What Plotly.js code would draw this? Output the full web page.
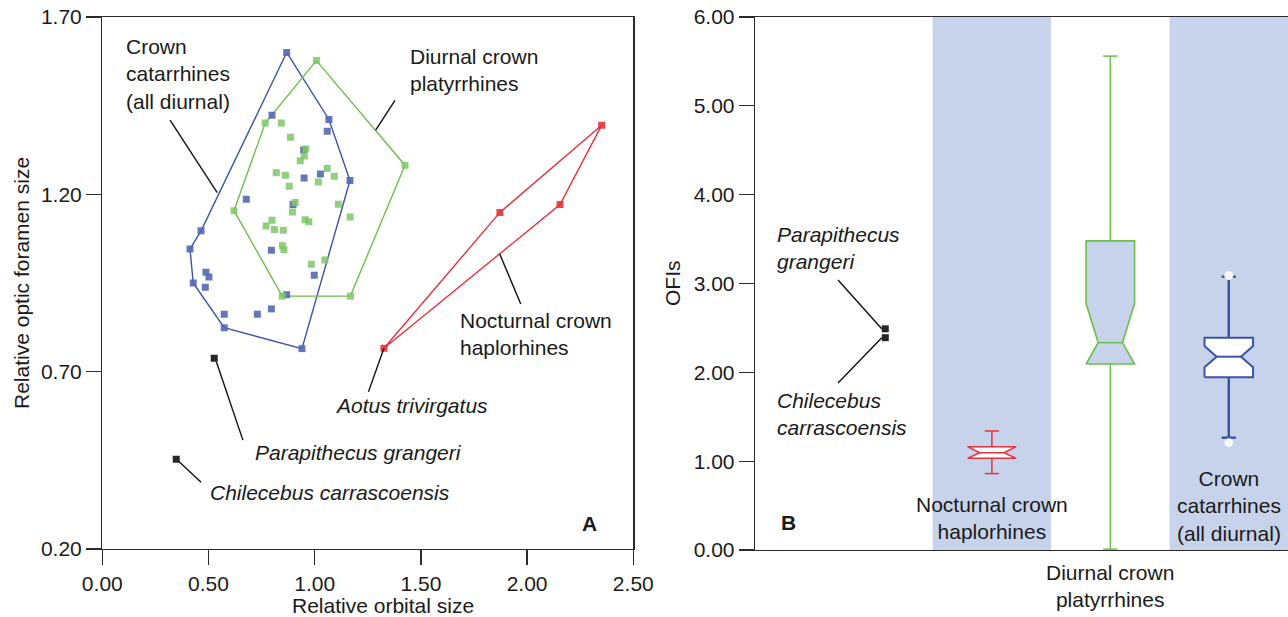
<!DOCTYPE html>
<html><head><meta charset="utf-8">
<script src="https://cdn.plot.ly/plotly-3.0.1.min.js"></script>
<style>html,body{margin:0;padding:0;background:#fff}#chart{width:1288px;height:617px}</style>
</head><body><div id="chart"></div>
<script>
// ---------- Panel A data ----------
const catarrhineOrbit = [0.868,1.067,1.059,0.799,0.948,0.950,1.027,1.166,0.678,0.898,0.465,0.413,0.796,0.488,0.502,0.428,0.485,0.998,0.868,0.574,0.730,0.796,0.574,0.940];
const catarrhineOptic = [1.600,1.411,1.378,1.423,1.325,1.246,1.257,1.239,1.186,1.171,1.097,1.046,1.042,0.980,0.967,0.950,0.938,0.972,0.917,0.862,0.862,0.877,0.824,0.765];
const catarrhineHull = [0,1,7,23,22,15,11,10];

const platyrrhineOrbit = [1.008,0.767,0.843,0.886,0.958,0.951,0.932,0.819,0.862,1.059,1.092,0.880,1.017,1.111,0.895,0.620,1.167,0.908,0.799,0.771,0.810,0.852,0.955,0.972,0.848,0.855,0.984,1.048,0.847,1.168,1.425];
const platyrrhineOptic = [1.577,1.401,1.401,1.361,1.328,1.308,1.295,1.261,1.254,1.273,1.251,1.223,1.235,1.172,1.150,1.154,1.136,1.177,1.127,1.111,1.101,1.099,1.128,1.123,1.055,1.044,1.003,1.015,0.913,0.913,1.282];
const platyrrhineHull = [0,30,29,28,15,1];

const nocturnalOrbit = [1.326,1.872,2.155,2.351];
const nocturnalOptic = [0.766,1.149,1.171,1.395];
const nocturnalHull = [0,1,3,2];

const fossilNames = ["Parapithecus grangeri","Chilecebus carrascoensis"];
const fossilOrbit = [0.527,0.348];
const fossilOptic = [0.738,0.453];

// ---------- Panel B data ----------
const groupNames = ["Nocturnal crown haplorhines","Diurnal crown platyrrhines","Crown catarrhines (all diurnal)"];
const lowerWhisker = [0.86,0.01,1.264];
const q1 = [1.032,2.094,1.944];
const median = [1.095,2.334,2.176];
const q3 = [1.163,3.48,2.39];
const upperWhisker = [1.34,5.56,3.077];
const notchLow = [1.032,2.094,2.057];
const notchHigh = [1.163,2.777,2.297];
const catarrhineOutliers = [3.09,1.208];
const fossilOFI = [2.49,2.39];

// ---------- styles ----------
const BLUE = '#3b53a6', BLUE_PT = '#5468b4';
const GREEN = '#6cc04a', GREEN_PT = '#7cc766';
const RED = '#e8323a';
const BAND = '#c7d3ea';
const AX = '#2b2b2b';
const FONT = 'Liberation Sans, Arial, Helvetica, sans-serif';
const FS = 21;

const traces = [];
function hullTrace(xs, ys, idx, color) {
  const hx = idx.map(i => xs[i]); hx.push(xs[idx[0]]);
  const hy = idx.map(i => ys[i]); hy.push(ys[idx[0]]);
  return {type:'scatter', mode:'lines', x:hx, y:hy, xaxis:'x', yaxis:'y',
    line:{color:color, width:1.4}, hoverinfo:'skip', showlegend:false};
}
traces.push(hullTrace(catarrhineOrbit, catarrhineOptic, catarrhineHull, BLUE));
traces.push(hullTrace(platyrrhineOrbit, platyrrhineOptic, platyrrhineHull, GREEN));
traces.push(hullTrace(nocturnalOrbit, nocturnalOptic, nocturnalHull, RED));
function pts(xs, ys, color, op) {
  return {type:'scatter', mode:'markers', x:xs, y:ys, xaxis:'x', yaxis:'y',
    marker:{symbol:'square', size:7, color:color, opacity:op, line:{width:0}}, showlegend:false};
}
traces.push(pts(catarrhineOrbit, catarrhineOptic, BLUE_PT, 0.9));
traces.push(pts(platyrrhineOrbit, platyrrhineOptic, GREEN_PT, 0.85));
traces.push(pts(nocturnalOrbit, nocturnalOptic, RED, 0.9));
traces.push(pts(fossilOrbit, fossilOptic, '#262626', 1));

// Panel B boxes
const positions = [1,2,3];
const boxLine = [RED, GREEN, BLUE];
const boxFill = ['#ffffff', BAND, '#ffffff'];
const whiskerW = [1.5,1.5,2.5];
const boxW = [1.5,1.6,2];
const hw = 0.205, nw = hw/2, cap = 0.06;
positions.forEach((p,i) => {
  traces.push({type:'scatter', mode:'lines', xaxis:'x2', yaxis:'y2', showlegend:false, hoverinfo:'skip',
    x:[p,p,null,p,p,null,p-cap,p+cap,null,p-cap,p+cap],
    y:[q3[i],upperWhisker[i],null,q1[i],lowerWhisker[i],null,upperWhisker[i],upperWhisker[i],null,lowerWhisker[i],lowerWhisker[i]],
    line:{color:boxLine[i], width:whiskerW[i]}});
  traces.push({type:'scatter', mode:'lines', xaxis:'x2', yaxis:'y2', showlegend:false, hoverinfo:'skip',
    x:[p-hw,p-hw,p-nw,p-hw,p-hw,p+hw,p+hw,p+nw,p+hw,p+hw,p-hw],
    y:[q1[i],notchLow[i],median[i],notchHigh[i],q3[i],q3[i],notchHigh[i],median[i],notchLow[i],q1[i],q1[i]],
    fill:'toself', fillcolor:boxFill[i], line:{color:boxLine[i], width:boxW[i]}});
  traces.push({type:'scatter', mode:'lines', xaxis:'x2', yaxis:'y2', showlegend:false, hoverinfo:'skip',
    x:[p-nw,p+nw], y:[median[i],median[i]], line:{color:boxLine[i], width:boxW[i]}});
});
traces.push({type:'scatter', mode:'markers', xaxis:'x2', yaxis:'y2', showlegend:false,
  x:catarrhineOutliers.map(()=>positions[2]), y:catarrhineOutliers,
  marker:{symbol:'circle', size:9, color:'#f5f7fc', line:{width:0}}});
traces.push({type:'scatter', mode:'markers', xaxis:'x2', yaxis:'y2', showlegend:false,
  x:fossilOFI.map(()=>0.1), y:fossilOFI,
  marker:{symbol:'square', size:7, color:'#262626', line:{width:0}}});

// ---------- layout ----------
const W = 1288, H = 617;
const shapes = [];
[0,2].forEach(i => shapes.push({type:'rect', xref:'x2', yref:'y2', x0:positions[i]-0.5, x1:positions[i]+0.5, y0:0, y1:6,
  fillcolor:BAND, line:{width:0}, layer:'below'}));
function leader(xref, yref, x0, y0, x1, y1) {
  shapes.push({type:'line', xref:xref, yref:yref, x0:x0, y0:y0, x1:x1, y1:y1, line:{color:'#111', width:1.4}});
}
leader('x','y',0.319,1.409,0.541,1.2045);
leader('x','y',1.378,1.465,1.287,1.381);
leader('x','y',1.970,0.891,1.871,1.032);
leader('x','y',1.253,0.643,nocturnalOrbit[0],nocturnalOptic[0]);
leader('x','y',0.662,0.507,fossilOrbit[0]+0.01,fossilOptic[0]-0.01);
leader('x','y',0.465,0.388,fossilOrbit[1]+0.01,fossilOptic[1]-0.005);
leader('x2','y2',-0.299,3.04,0.07,fossilOFI[0]);
leader('x2','y2',-0.299,1.88,0.07,fossilOFI[1]);

const tf = {family:FONT, size:FS, color:'#1a1a1a'};
function ann(xref, yref, x, y, text, xa, align, extra) {
  return Object.assign({xref:xref, yref:yref, x:x, y:y, text:text, showarrow:false, xanchor:xa, yanchor:'middle', align:align, font:tf}, extra||{});
}
// x position (paper) of the middle category of panel B, from the axis domain/range
const x2dom = [755/W, 1], x2rng = [-1, 3.5];
const x2paper = v => x2dom[0] + (v - x2rng[0]) / (x2rng[1] - x2rng[0]) * (x2dom[1] - x2dom[0]);
const annotations = [
  ann('x','y',0.102,1.539,'Crown<br>catarrhines<br>(all diurnal)','left','left'),
  ann('x','y',1.439,1.550,'Diurnal crown<br>platyrrhines','left','left'),
  ann('x','y',1.675,0.806,'Nocturnal crown<br>haplorhines','left','left'),
  ann('x','y',1.086,0.606,'<i>Aotus trivirgatus</i>','left','left'),
  ann('x','y',0.7095,0.471,'<i>'+fossilNames[0]+'</i>','left','left'),
  ann('x','y',0.4986,0.358,'<i>'+fossilNames[1]+'</i>','left','left'),
  ann('x','y',2.296,0.273,'<b>A</b>','center','center'),
  ann('x2','y2',-0.713,0.304,'<b>B</b>','center','center'),
  ann('x2','y2',-0.831,3.405,'<i>Parapithecus<br>grangeri</i>','left','left'),
  ann('x2','y2',-0.831,1.531,'<i>Chilecebus<br>carrascoensis</i>','left','left'),
  ann('x2','y2',positions[0],0.355,'Nocturnal crown<br>haplorhines','center','center'),
  ann('x2','y2',positions[2],0.495,'Crown<br>catarrhines<br>(all diurnal)','center','center'),
  ann('paper','paper',x2paper(positions[1]),1-586/H,'Diurnal crown<br>platyrrhines','center','center'),
  ann('paper','paper',383/W,1-605/H,'Relative orbital size','center','center'),
  ann('paper','paper',21/W,1-283/H,'Relative optic foramen size','center','center',{textangle:-90}),
  ann('paper','paper',672/W,1-283/H,'OFIs','center','center',{textangle:-90})
];

const axBase = {showgrid:false, zeroline:false, showline:true, linecolor:AX, linewidth:1.3,
  ticks:'outside', ticklen:15, tickwidth:1.3, tickcolor:AX, tickfont:tf, automargin:false, fixedrange:true};
const layout = {
  width:W, height:H, margin:{l:0,r:0,t:0,b:0}, paper_bgcolor:'#fff', plot_bgcolor:'rgba(0,0,0,0)',
  showlegend:false, font:{family:FONT},
  xaxis:Object.assign({}, axBase, {domain:[102.3/W, 633.3/W], range:[0,2.5], dtick:0.5, tick0:0, tickformat:'.2f', mirror:true, anchor:'y'}),
  yaxis:Object.assign({}, axBase, {domain:[(H-549)/H, (H-17)/H], range:[0.2,1.7], dtick:0.5, tick0:0.2, tickformat:'.2f', mirror:true, anchor:'x'}),
  xaxis2:Object.assign({}, axBase, {domain:x2dom, range:x2rng, ticks:'', showticklabels:false, mirror:true, anchor:'y2'}),
  yaxis2:Object.assign({}, axBase, {domain:[(H-550)/H, (H-17)/H], range:[0,6], dtick:1, tick0:0, tickformat:'.2f', mirror:false, anchor:'x2'}),
  shapes:shapes, annotations:annotations
};
Plotly.newPlot('chart', traces, layout, {displayModeBar:false, staticPlot:true});
</script></body></html>
